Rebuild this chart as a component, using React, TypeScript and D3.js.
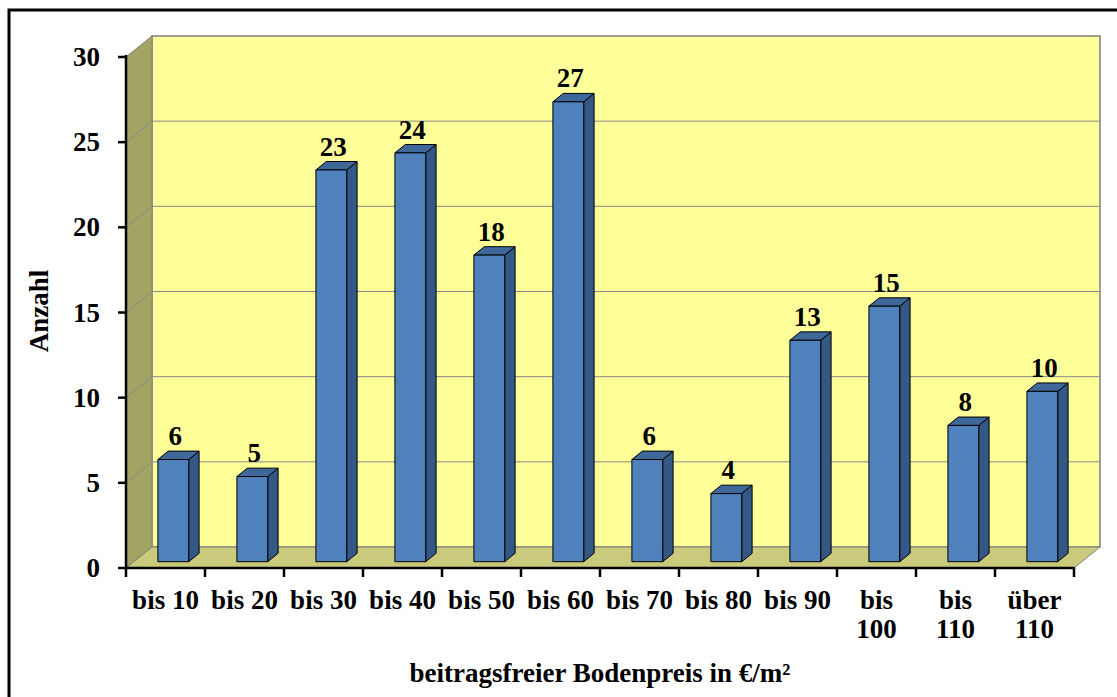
import React from "react";
import * as d3 from "d3";

const categories = ["bis 10", "bis 20", "bis 30", "bis 40", "bis 50", "bis 60", "bis 70", "bis 80", "bis 90", "bis 100", "bis 110", "über 110"];
const values = [6, 5, 23, 24, 18, 27, 6, 4, 13, 15, 8, 10];
const yTicks = [0, 5, 10, 15, 20, 25, 30];
const xTitle = "beitragsfreier Bodenpreis in €/m²";
const yTitle = "Anzahl";

const W = 1117;
const H = 697;
const left = 126;
const right = 1074;
const bottom = 568;
const top = 57;
const depthX = 26;
const depthY = -21;
const font = "'Liberation Serif', 'Times New Roman', serif";
const fs = 27;

const App: React.FC = () => {
  const x = d3.scaleBand<string>().domain(categories).range([left, right]).paddingInner(0).paddingOuter(0);
  const y = d3.scaleLinear().domain([0, 30]).range([bottom, top]);
  const y0 = y(0);
  const y30 = y(30);
  const bw = x.bandwidth() * 0.39;
  const d0 = 0.3;
  const d1 = 0.7;

  const pts = (p: [number, number][]) => p.map((q) => q.join(",")).join(" ");

  return (
    <div style={{ position: "fixed", left: 0, top: 0 }}>
      <svg width={W} height={H} style={{ display: "block", background: "#fff" }}>
        <rect x={9} y={10} width={W + 20} height={H + 20} fill="#fff" stroke="#000" strokeWidth={3} />

        {/* back wall */}
        <polygon
          points={pts([[left + depthX, y30 + depthY], [right + depthX, y30 + depthY], [right + depthX, y0 + depthY], [left + depthX, y0 + depthY]])}
          fill="#FFFF99" stroke="#808080" strokeWidth={1.5}
        />
        {/* left wall */}
        <polygon
          points={pts([[left, y30], [left + depthX, y30 + depthY], [left + depthX, y0 + depthY], [left, y0]])}
          fill="#A3A363" stroke="#808080" strokeWidth={1}
        />
        {/* floor */}
        <polygon
          points={pts([[left, y0], [right, y0], [right + depthX, y0 + depthY], [left + depthX, y0 + depthY]])}
          fill="#CACA7C" stroke="#808080" strokeWidth={1}
        />

        {yTicks.filter((t) => t > 0 && t < 30).map((t) => (
          <g key={t}>
            <line x1={left} y1={y(t)} x2={left + depthX} y2={y(t) + depthY} stroke="#8A8A8A" strokeWidth={1} />
            <line x1={left + depthX} y1={y(t) + depthY} x2={right + depthX} y2={y(t) + depthY} stroke="#8A8A8A" strokeWidth={1} />
          </g>
        ))}

        {categories.map((c, i) => {
          const cx = (x(c) as number) + x.bandwidth() / 2 + depthX * d0;
          const fx0 = cx - bw / 2;
          const fx1 = cx + bw / 2;
          const fyb = y0 + depthY * d0;
          const fyt = y(values[i]) + depthY * d0;
          const ddx = depthX * (d1 - d0);
          const ddy = depthY * (d1 - d0);
          return (
            <g key={c} stroke="#000" strokeWidth={1} strokeLinejoin="round">
              <polygon points={pts([[fx1, fyt], [fx1 + ddx, fyt + ddy], [fx1 + ddx, fyb + ddy], [fx1, fyb]])} fill="#345886" />
              <polygon points={pts([[fx0, fyt], [fx0 + ddx, fyt + ddy], [fx1 + ddx, fyt + ddy], [fx1, fyt]])} fill="#3E679A" />
              <rect x={fx0} y={fyt} width={bw} height={fyb - fyt} fill="#4F81BD" />
              <text
                x={cx + 2} y={fyt + ddy - 6} textAnchor="middle" stroke="none" fill="#000"
                fontFamily={font} fontWeight="bold" fontSize={fs}
              >
                {values[i]}
              </text>
            </g>
          );
        })}

        {/* axes */}
        <line x1={left} y1={y30 - 2} x2={left} y2={y0 + 1} stroke="#000" strokeWidth={2.5} />
        <line x1={left - 1} y1={y0} x2={right + 1} y2={y0} stroke="#000" strokeWidth={2.5} />
        {yTicks.map((t) => (
          <g key={t}>
            <line x1={left - 8} y1={y(t)} x2={left} y2={y(t)} stroke="#000" strokeWidth={2.5} />
            <text x={left - 26} y={y(t) + 9} textAnchor="end" fontFamily={font} fontWeight="bold" fontSize={fs}>{t}</text>
          </g>
        ))}
        {[...categories.map((c) => x(c) as number), right].map((px, i) => (
          <line key={i} x1={px} y1={y0} x2={px} y2={y0 + 9} stroke="#000" strokeWidth={2.5} />
        ))}
        {categories.map((c) => {
          const lines = c.length > 6 ? c.split(" ") : [c];
          const cx = (x(c) as number) + x.bandwidth() / 2;
          return (
            <text key={c} textAnchor="middle" fontFamily={font} fontWeight="bold" fontSize={fs}>
              {lines.map((l, j) => (
                <tspan key={j} x={cx} y={609 + j * 29}>{l}</tspan>
              ))}
            </text>
          );
        })}

        <text x={600} y={682} textAnchor="middle" fontFamily={font} fontWeight="bold" fontSize={fs}>{xTitle}</text>
        <text transform="translate(48,311) rotate(-90)" textAnchor="middle" fontFamily={font} fontWeight="bold" fontSize={fs}>{yTitle}</text>
      </svg>
    </div>
  );
};

export default App;
